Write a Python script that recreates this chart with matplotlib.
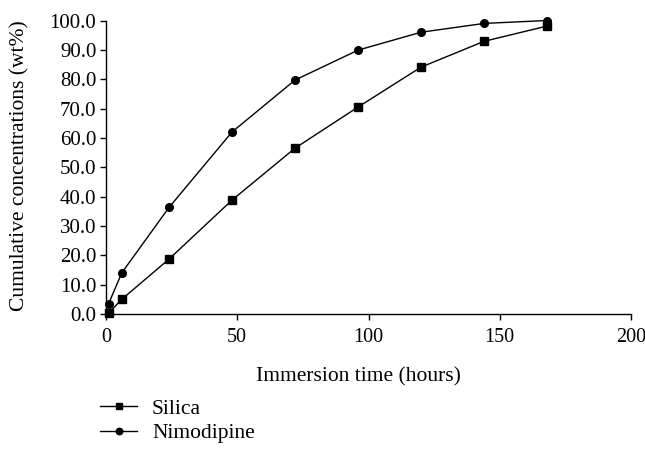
import matplotlib
matplotlib.use("Agg")
import matplotlib.pyplot as plt

plt.rcParams['font.family'] = ['Liberation Serif', 'DejaVu Serif']

hours = [1, 6, 24, 48, 72, 96, 120, 144, 168]
silica = [0.3, 5.0, 18.7, 38.8, 56.5, 70.5, 84.1, 92.9, 98.1]
nimodipine = [3.5, 14.0, 36.3, 62.0, 79.7, 89.9, 96.0, 99.0, 100.0]
x_ticks = [0, 50, 100, 150, 200]
y_ticks = [0, 10, 20, 30, 40, 50, 60, 70, 80, 90, 100]

FS = 15.0
fig = plt.figure(figsize=(6.45, 4.53), dpi=100)
ax = fig.add_axes([106/645, 1-314/453, 525/645, 293.5/453])

ax.plot(hours, silica, color='black', lw=1.0, marker='s', ms=5.5, label='Silica', clip_on=False)
ax.plot(hours, nimodipine, color='black', lw=1.0, marker='o', ms=5.5, label='Nimodipine', clip_on=False)

ax.set_xlim(0, 200)
ax.set_ylim(0, 100)
ax.set_xticks(x_ticks)
ax.set_yticks(y_ticks)
ax.set_yticklabels([f"{v:.1f}" for v in y_ticks])
for s in ['top', 'right']:
    ax.spines[s].set_visible(False)
for s in ['left', 'bottom']:
    ax.spines[s].set_linewidth(1.0)
ax.tick_params(axis='both', direction='out', length=4, width=1.0, labelsize=FS, colors='black')
ax.tick_params(axis='x', pad=6, labelsize=14.5)
ax.tick_params(axis='y', pad=3)
ax.set_xlabel('Immersion time (hours)', fontsize=15.5)
ax.set_ylabel('Cumulative concentrations (wt%)', fontsize=15.5)
ax.xaxis.set_label_coords(358/645, 1-377/453, transform=fig.transFigure)
ax.xaxis.label.set_verticalalignment('center')
ax.yaxis.set_label_coords(20/645, 1-166/453, transform=fig.transFigure)
ax.yaxis.label.set_verticalalignment('center')

handles, labels = ax.get_legend_handles_labels()
leg = fig.legend(handles, labels, loc='center left', bbox_to_anchor=(100/645, 1-421/453),
                 frameon=False, fontsize=15.5, handlelength=1.72, handletextpad=0.7,
                 labelspacing=0.2, borderaxespad=0, borderpad=0, markerscale=0.85)

fig.savefig('out.png', dpi=100)
